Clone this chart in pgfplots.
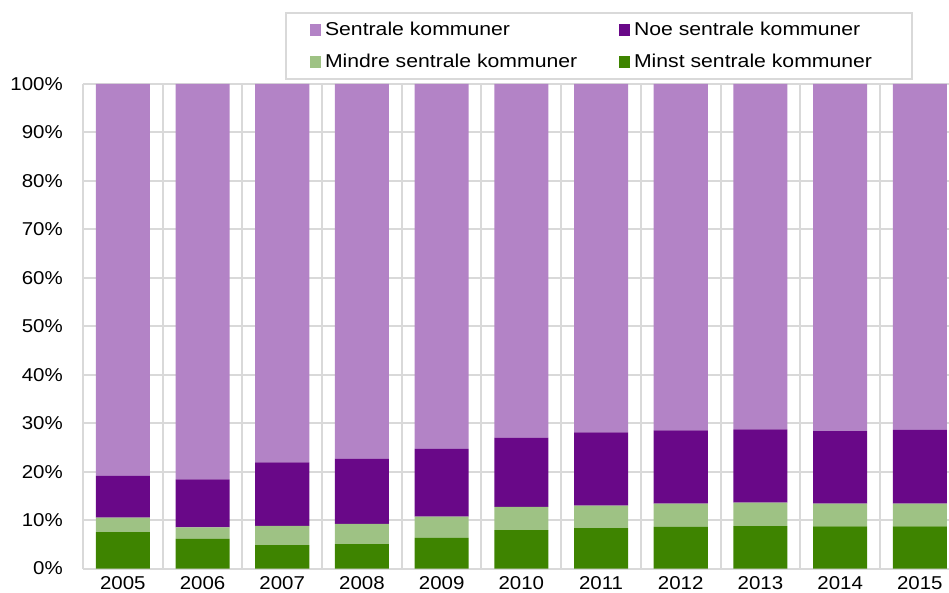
\documentclass[border=0pt]{standalone}
\usepackage{fontspec}
\setmainfont{Liberation Sans}[FakeStretch=1.1]
\newfontfamily\legfont{Liberation Sans}[FakeStretch=1.14]
\usepackage{pgfplots}
\usepackage{pgfplotstable}
\pgfplotsset{compat=1.18}

\definecolor{lpurple}{RGB}{179,131,198}
\definecolor{dpurple}{RGB}{105,8,136}
\definecolor{lgreen}{RGB}{158,194,132}
\definecolor{dgreen}{RGB}{62,132,0}
\definecolor{gridgray}{RGB}{217,217,217}

% shares per year (%), stacked from the bottom
\pgfplotstableread{
x  minst mindre noe   sentrale
0  7.5   3.0    8.6   80.9
1  6.1   2.4    9.9   81.6
2  4.8   4.0    13.1  78.1
3  5.05  4.15   13.5  77.3
4  6.3   4.4    14.0  75.3
5  7.9   4.8    14.3  73.0
6  8.35  4.65   15.1  71.9
7  8.6   4.8    15.1  71.5
8  8.75  4.85   15.1  71.3
9  8.7   4.7    14.95 71.65
10 8.7   4.7    15.2  71.4
}\andel

\pgfplotsset{sq/.style={legend image code/.code={\fill[##1,draw=none] (0pt,-6pt) rectangle (11pt,6pt);}}}

\begin{document}
\begin{tikzpicture}
\path[use as bounding box] (-83pt,-23.5pt) rectangle (866pt,568.5pt);
\begin{axis}[
    at={(0,0)}, anchor=south west,
    scale only axis, width=866pt, height=484.5pt,
    ybar stacked, bar width=0.678,
    xmin=-0.5, xmax=10.366, ymin=0, ymax=100,
    axis x line*=bottom, axis y line*=left,
    axis line style={draw=gridgray, line width=2pt},
    font=\fontsize{18.6}{22}\selectfont,
    xtick={0,...,10},
    xticklabels={2005,2006,2007,2008,2009,2010,2011,2012,2013,2014,2015},
    minor xtick={-0.5,0.5,...,10.5},
    ytick={0,10,...,100},
    yticklabels={0\%,10\%,20\%,30\%,40\%,50\%,60\%,70\%,80\%,90\%,100\%},
    major tick length=0pt, minor tick length=0pt,
    ymajorgrids, xminorgrids,
    major grid style={draw=gridgray, line width=2pt},
    minor grid style={draw=gridgray, line width=2pt},
    xticklabel style={anchor=north, inner sep=0pt, yshift=-8pt},
    yticklabel style={anchor=east, inner sep=0pt, xshift=-20pt},
    legend columns=2, reverse legend, legend cell align=left,
    legend style={at={(0.2333,1.1486)}, anchor=north west,
        draw=gridgray, line width=2pt, fill=white,
        inner xsep=24pt, inner ysep=7.5pt, row sep=13pt,
        font=\legfont\fontsize{18.6}{22}\selectfont,
        /tikz/every even column/.append style={column sep=40pt}},
]
\addplot[sq, fill=dgreen, draw=none] table[x=x, y=minst] {\andel};
\addlegendentry{\makebox[254pt][l]{\hspace*{2pt}Minst sentrale kommuner}}
\addplot[sq, fill=lgreen, draw=none] table[x=x, y=mindre] {\andel};
\addlegendentry{\makebox[254pt][l]{\hspace*{2pt}Mindre sentrale kommuner}}
\addplot[sq, fill=dpurple, draw=none] table[x=x, y=noe] {\andel};
\addlegendentry{\makebox[254pt][l]{\hspace*{2pt}Noe sentrale kommuner}}
\addplot[sq, fill=lpurple, draw=none] table[x=x, y=sentrale] {\andel};
\addlegendentry{\makebox[254pt][l]{\hspace*{2pt}Sentrale kommuner}}
\end{axis}
\end{tikzpicture}
\end{document}
